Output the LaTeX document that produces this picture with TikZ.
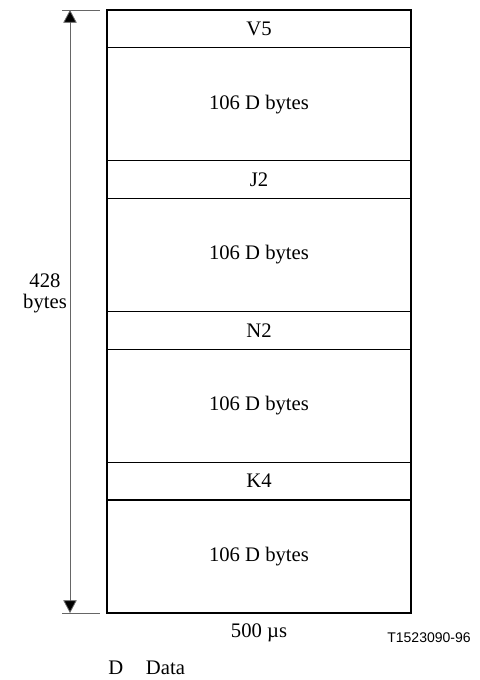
\documentclass[tikz,border=0pt]{standalone}
\usepackage{fontspec}
\setmainfont{Liberation Serif}
\newfontfamily\labelfont{Liberation Sans}
\usepackage{tikz}
\usetikzlibrary{arrows.meta,positioning}

\begin{document}
\begin{tikzpicture}[x=0.75pt, y=-0.75pt, every node/.style={align=center}, node distance=0pt]
\tikzset{
  row/.style={draw, line width=0.9pt, minimum width=228pt, inner sep=0pt, outer sep=0pt, font=\fontsize{15.5}{16}\selectfont},
  overhead/.style={row, minimum height=28.31pt},
  payload/.style={row, minimum height=84.75pt},
  tick/.style={draw=black!60, line width=0.6pt},
  span/.style={draw=black!60, line width=0.6pt, {Triangle[length=9.5pt,width=10pt,fill=black]}-{Triangle[length=9.5pt,width=10pt,fill=black]}}
}
\useasboundingbox (0,0) rectangle (479,680);
\node[overhead, anchor=north] (v5) at (259,10) {V5};
\node[payload, below=of v5] (d1) {106 D bytes};
\node[overhead, below=of d1] (j2) {J2};
\node[payload, below=of j2] (d2) {106 D bytes};
\node[overhead, below=of d2] (n2) {N2};
\node[payload, below=of n2] (d3) {106 D bytes};
\node[overhead, below=of d3] (k4) {K4};
\node[payload, below=of k4] (d4) {106 D bytes};
% size arrow
\coordinate (ttop) at (62,10);
\coordinate (tbot) at (62,613);
\coordinate (atop) at (70,10);
\coordinate (abot) at (70,613);
\draw[tick] (ttop) -- +(38,0);
\draw[tick] (tbot) -- +(38,0);
\draw[span] (atop) -- (abot);
\node[font=\fontsize{15.5}{15.75}\selectfont] (size) at (45,293) {428\\bytes};
\node[font=\fontsize{15.5}{16}\selectfont] (period) at (259,633) {500 µs};
\node[font=\labelfont\fontsize{10.5}{12}\selectfont] (ref) at (429,638) {T1523090-96};
\node[font=\fontsize{15.5}{16}\selectfont, anchor=west, inner sep=0pt] (key) at (108,668) {D\hspace{1.1em}Data};
\end{tikzpicture}
\end{document}
